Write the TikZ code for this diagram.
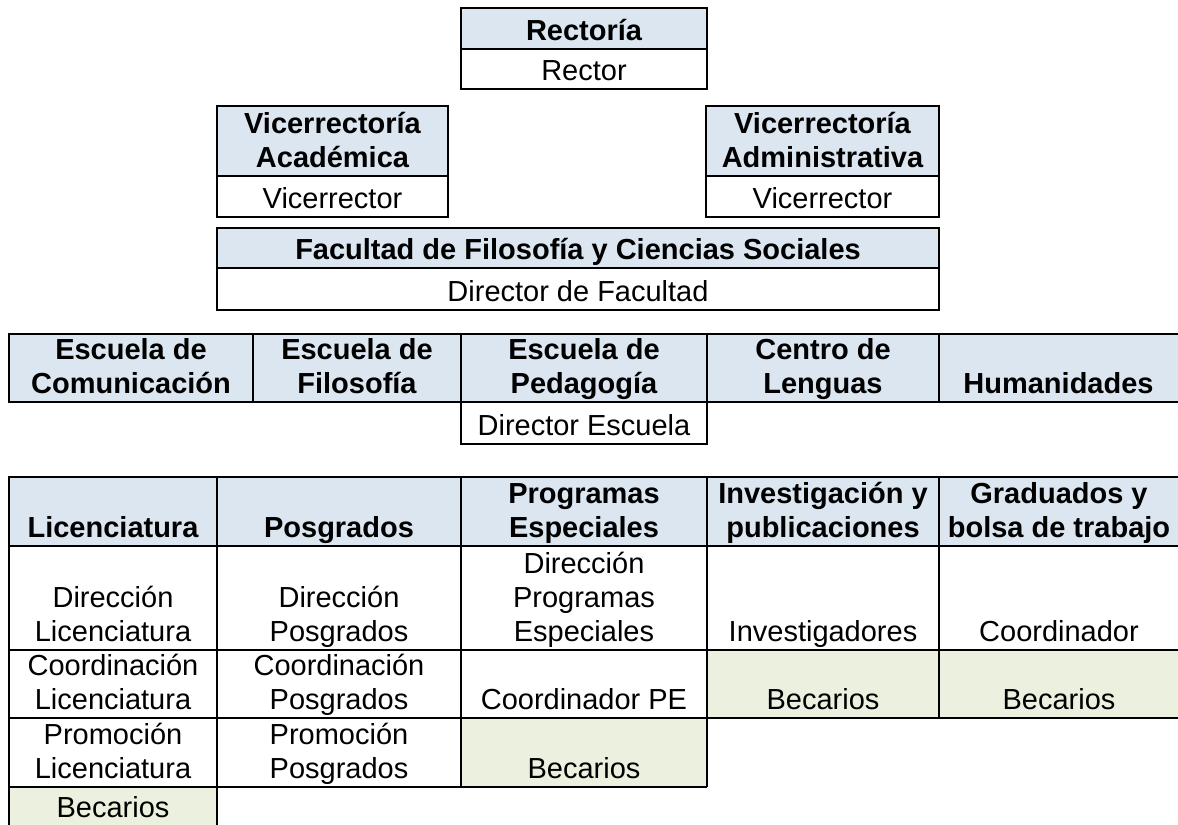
\documentclass[tikz,border=0pt]{standalone}
\usepackage{fontspec}
\setmainfont{Liberation Sans}
\usepackage{tikz}
\definecolor{hdrblue}{HTML}{DCE6F1}
\definecolor{becgreen}{HTML}{EBF1DE}

\begin{document}
\begin{tikzpicture}[x=0.02cm,y=-0.02cm,
 box/.style={line width=1.3pt},
 txt/.style={anchor=south,inner sep=0pt,yshift=0.04cm,align=center,
  font=\fontsize{16.5}{19.4}\selectfont,
  execute at end node={\rule[-0.12cm]{0pt}{0.1cm}}},
 btxt/.style={txt,font=\fontsize{16.5}{19.4}\selectfont\bfseries}]
 \useasboundingbox (0,0) rectangle (1178,825);
 \fill[white](0,0) rectangle (1178,825);
 \fill[hdrblue](461,8) rectangle (707,49);
 \fill[hdrblue](217,106) rectangle (448,176);
 \fill[hdrblue](706,106) rectangle (939,176);
 \fill[hdrblue](217,228) rectangle (939,268);
 \fill[hdrblue](9,334) rectangle (1178,402);
 \fill[hdrblue](9,477) rectangle (1178,546);
 \fill[becgreen](9,787) rectangle (217,826);
 \fill[becgreen](461,718) rectangle (707,787);
 \fill[becgreen](707,650) rectangle (1178,718);
 \draw[box](461,8) rectangle (707,89) (461,49)--(707,49);
 \draw[box](217,106) rectangle (448,217) (217,176)--(448,176);
 \draw[box](706,106) rectangle (939,217) (706,176)--(939,176);
 \draw[box](217,228) rectangle (939,310) (217,268)--(939,268);
 \draw[box](1178,334)--(9,334)--(9,402)--(1178,402);
 \draw[box](253,334)--(253,402) (461,334)--(461,402) (707,334)--(707,402) (939,334)--(939,402);
 \draw[box](461,402) rectangle (707,444);
 \draw[box](1178,477)--(9,477)--(9,826);
 \draw[box](9,546)--(1178,546) (9,650)--(1178,650) (9,718)--(1178,718) (9,787)--(707,787);
 \draw[box](217,477)--(217,826) (461,477)--(461,787) (707,477)--(707,787) (939,477)--(939,718);
 \node[btxt] (rect) at (584,49) {Rectoría};
 \node[txt] (rector) at (584,89) {Rector};
 \node[btxt] (vacad) at (332.5,176) {Vicerrectoría\\Académica};
 \node[txt] (vacadp) at (332.5,217) {Vicerrector};
 \node[btxt] (vadmin) at (822.5,176) {Vicerrectoría\\Administrativa};
 \node[txt] (vadminp) at (822.5,217) {Vicerrector};
 \node[btxt] (fac) at (578,268) {Facultad de Filosofía y Ciencias Sociales};
 \node[txt] (facp) at (578,310) {Director de Facultad};
 \node[btxt] (ecom) at (131,402) {Escuela de\\Comunicación};
 \node[btxt] (efil) at (357,402) {Escuela de\\Filosofía};
 \node[btxt] (eped) at (584,402) {Escuela de\\Pedagogía};
 \node[btxt] (clen) at (823,402) {Centro de\\Lenguas};
 \node[btxt] (hum) at (1058.5,402) {Humanidades};
 \node[txt] (eped-d) at (584,444) {Director Escuela};
 \node[btxt] (lic) at (113,546) {Licenciatura};
 \node[btxt] (pos) at (339,546) {Posgrados};
 \node[btxt] (pes) at (584,546) {Programas\\Especiales};
 \node[btxt] (inv) at (823,546) {Investigación y\\publicaciones};
 \node[btxt] (gra) at (1059,546) {Graduados y\\bolsa de trabajo};
 \node[txt] (lic-1) at (113,650) {Dirección\\Licenciatura};
 \node[txt] (pos-1) at (339,650) {Dirección\\Posgrados};
 \node[txt] (pes-1) at (584,650) {Dirección\\Programas\\Especiales};
 \node[txt] (inv-1) at (823,650) {Investigadores};
 \node[txt] (gra-1) at (1059,650) {Coordinador};
 \node[txt] (lic-2) at (113,718) {Coordinación\\Licenciatura};
 \node[txt] (pos-2) at (339,718) {Coordinación\\Posgrados};
 \node[txt] (pes-2) at (584,718) {Coordinador PE};
 \node[txt] (inv-2) at (823,718) {Becarios};
 \node[txt] (gra-2) at (1059,718) {Becarios};
 \node[txt] (lic-3) at (113,787) {Promoción\\Licenciatura};
 \node[txt] (pos-3) at (339,787) {Promoción\\Posgrados};
 \node[txt] (pes-3) at (584,787) {Becarios};
 \node[txt] (lic-4) at (113,826) {Becarios};
\end{tikzpicture}
\end{document}
